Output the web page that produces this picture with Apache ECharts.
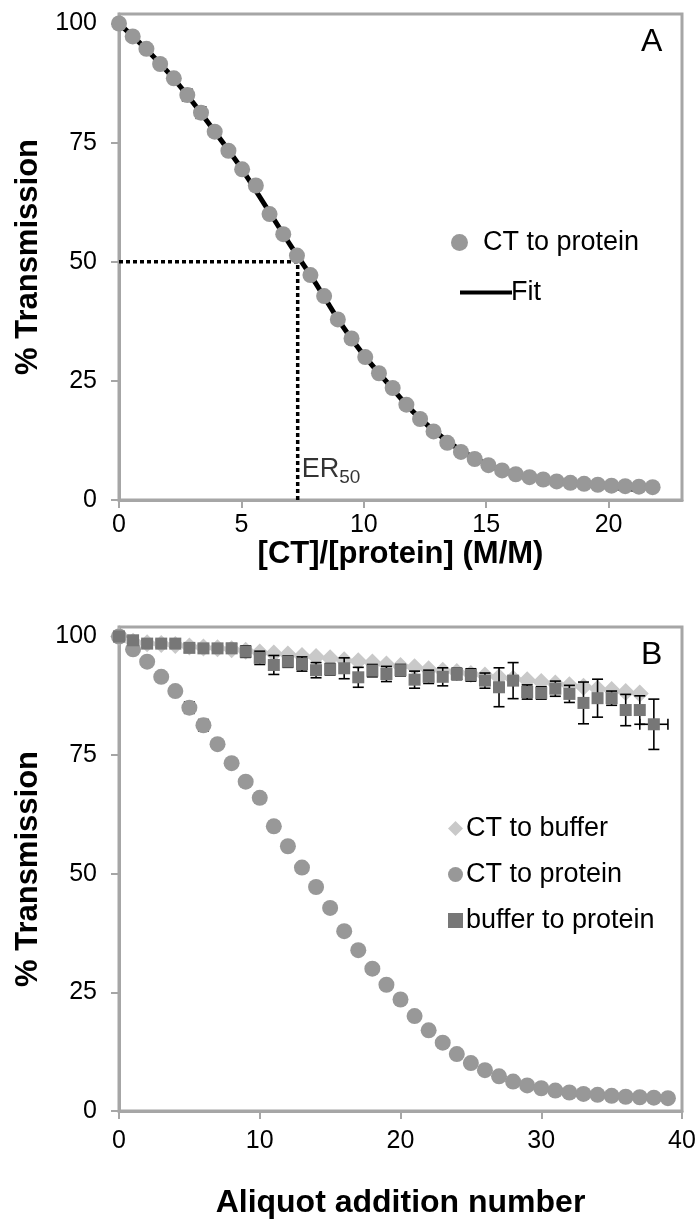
<!DOCTYPE html>
<html><head><meta charset="utf-8">
<script src="https://cdn.jsdelivr.net/npm/echarts@6/dist/echarts.min.js"></script>
<style>html,body{margin:0;padding:0;background:#fff}#c{width:699px;height:1230px}</style>
</head><body><div id="c"></div>
<script>
// ---- data ----
const ratioX = [0,0.56,1.12,1.68,2.24,2.79,3.35,3.91,4.47,5.03,5.59,6.15,6.71,7.27,7.82,8.38,8.94,9.50,10.06,10.62,11.18,11.74,12.30,12.85,13.41,13.97,14.53,15.09,15.65,16.21,16.77,17.33,17.88,18.44,19.00,19.56,20.12,20.68,21.24,21.80];
const aliquot = [0,1,2,3,4,5,6,7,8,9,10,11,12,13,14,15,16,17,18,19,20,21,22,23,24,25,26,27,28,29,30,31,32,33,34,35,36,37,38,39];
const ctProtein = [100,97.3,94.7,91.5,88.5,85,81.3,77.3,73.3,69.4,66,60,55.8,51.3,47.2,42.8,37.9,33.9,30,26.6,23.5,20,17,14.4,12,10.1,8.6,7.3,6.2,5.4,4.8,4.3,3.9,3.6,3.4,3.2,3.0,2.9,2.8,2.7];
const ctProteinErr = [0,0,0,0,0,1.2,1.2,0,0,0,1.0,1.0,0,0,0,0,0,0,0,0,0,0,0.9,0,0,0,0,0,0,0,0,0,0,0,0,0,0,0,0,0];
const fitX = [0,1,2,3,4,5,6,7,8,9,10,11,12,13,14,15,16,17,18,19,20,21.2];
const fitY = [100,95.2,89.8,83.6,76.7,69.6,61.6,53.5,45.8,37.5,30.4,24.4,18.6,14,10.3,7.6,5.8,4.6,3.8,3.2,2.7,2.2];
const er50 = 7.3;
const ctBuffer = [100,98.9,98.6,98.4,98.2,97.9,97.7,97.5,97.3,97.0,96.6,96.4,96.2,95.9,95.7,95.4,95.0,94.8,94.5,94.1,93.8,93.5,93.1,92.8,92.5,92.1,91.8,91.4,91.1,90.8,90.4,90.1,89.7,89.4,89.0,88.7,88.3,88.0];
const bufProtein = [100,99.2,98.5,98.5,98.5,97.6,97.5,97.5,97.5,96.8,95.5,94,94.7,94.2,92.9,93.1,93.3,91.4,92.8,92.1,92.9,90.9,91.5,91.5,92.1,91.9,90.7,89.3,90.7,88.3,88.1,89.0,87.9,86,87,87,84.5,84.5,81.5];
const bufProteinErr = [0.4,0.6,0.8,0.8,0.8,0.9,0.9,0.9,1.0,1.2,1.4,2.0,1.2,1.5,1.6,1.2,2.2,2.1,1.3,1.6,1.2,1.8,1.4,1.9,1.2,1.3,1.6,4.1,3.8,1.5,1.3,1.6,1.8,4.4,4.0,1.5,3.3,3.0,5.3];
const bufProteinXErr = [0,0,0,0,0,0,0,0,0,0,0,0,0,0,0,0,0,0,0,0,0,0,0,0,0,0,0,0,0,0,0,0,0,0,0,0,0,0,1.0];
const yTicks = [0,25,50,75,100];
const xTicksA = [0,5,10,15,20];
const xTicksB = [0,10,20,30,40];

// ---- chart ----
const FONT = 'Liberation Sans, Arial, sans-serif';
const GRAY = '#a6a6a6';
const cCircle = '#989898', cDiamond = '#c9c9c9', cSquare = '#777777';

function errRender(params, api) {
  const x = api.value(0), y = api.value(1), e = api.value(2), xe = api.value(3);
  const ch = [];
  const cap = 5.5;
  const st = {stroke:'#000', lineWidth:1.6};
  if (e > 0) {
    const t = api.coord([x, y + e]), b = api.coord([x, y - e]);
    ch.push({type:'line', shape:{x1:t[0], y1:t[1], x2:b[0], y2:b[1]}, style:st});
    ch.push({type:'line', shape:{x1:t[0]-cap, y1:t[1], x2:t[0]+cap, y2:t[1]}, style:st});
    ch.push({type:'line', shape:{x1:b[0]-cap, y1:b[1], x2:b[0]+cap, y2:b[1]}, style:st});
  }
  if (xe > 0) {
    const l = api.coord([x - xe, y]), r = api.coord([x + xe, y]);
    ch.push({type:'line', shape:{x1:l[0], y1:l[1], x2:r[0], y2:r[1]}, style:st});
    ch.push({type:'line', shape:{x1:l[0], y1:l[1]-cap, x2:l[0], y2:l[1]+cap}, style:st});
    ch.push({type:'line', shape:{x1:r[0], y1:r[1]-cap, x2:r[0], y2:r[1]+cap}, style:st});
  }
  return {type:'group', children:ch};
}

function xAxisCfg(grid, max, ticks, name, gap, nsize, lmargin) {
  return {
    type:'value', gridIndex:grid, min:0, max:max,
    axisLine:{show:true, onZero:false, lineStyle:{color:GRAY, width:3}},
    axisTick:{show:true, length:8, customValues:ticks, lineStyle:{color:GRAY, width:2}},
    axisLabel:{customValues:ticks, fontSize:25, color:'#000', margin:lmargin, fontFamily:FONT},
    splitLine:{show:false},
    name:name, nameLocation:'middle', nameGap:gap,
    nameTextStyle:{fontSize:nsize, fontWeight:'bold', color:'#000', fontFamily:FONT}
  };
}
function yAxisCfg(grid) {
  return {
    type:'value', gridIndex:grid, min:0, max:102,
    axisLine:{show:true, onZero:false, lineStyle:{color:GRAY, width:3}},
    axisTick:{show:true, length:8, customValues:yTicks, lineStyle:{color:GRAY, width:2}},
    axisLabel:{customValues:yTicks, fontSize:25, color:'#000', margin:22, fontFamily:FONT},
    splitLine:{show:false},
    name:'% Transmission', nameLocation:'middle', nameGap:74, nameRotate:90,
    nameTextStyle:{fontSize:31, fontWeight:'bold', color:'#000', fontFamily:FONT}
  };
}

const chart = echarts.init(document.getElementById('c'), null, {renderer:'canvas'});
chart.setOption({
  backgroundColor:'#fff',
  animation:false,
  grid:[
    {left:119, top:14, width:563, height:486, show:true, borderColor:GRAY, borderWidth:3, backgroundColor:'transparent'},
    {left:119, top:627, width:563, height:484, show:true, borderColor:GRAY, borderWidth:3, backgroundColor:'transparent'}
  ],
  xAxis:[
    xAxisCfg(0, 23, xTicksA, '[CT]/[protein] (M/M)', 32, 31, 13),
    xAxisCfg(1, 40, xTicksB, 'Aliquot addition number', 76, 32, 18)
  ],
  yAxis:[yAxisCfg(0), yAxisCfg(1)],
  legend:[
    {left:446, top:224, orient:'vertical', itemWidth:17, itemHeight:17, selectedMode:false,
     data:[{name:'CT to protein', icon:'circle'}],
     textStyle:{fontSize:27, color:'#000', fontFamily:FONT, padding:[0,0,0,10]}},
    {left:455, top:274, orient:'vertical', itemWidth:52, itemHeight:4, selectedMode:false,
     data:[{name:'Fit', icon:'rect'}],
     textStyle:{fontSize:27, color:'#000', fontFamily:FONT, padding:[0,0,0,-6]}},
    {left:443, top:810, orient:'vertical', itemWidth:15, itemHeight:15, itemGap:19, selectedMode:false,
     data:[{name:'CT to buffer', icon:'diamond'},{name:'CT to protein', icon:'circle'},{name:'buffer to protein', icon:'path://M3,3 L12,3 L12,12 L3,12 Z'}],
     textStyle:{fontSize:27, color:'#000', fontFamily:FONT, padding:[0,0,0,-2]}}
  ],
  graphic:[
    {type:'text', left:641, top:26, style:{text:'A', fontSize:32, fill:'#000', fontFamily:FONT}},
    {type:'text', left:641, top:639, style:{text:'B', fontSize:32, fill:'#000', fontFamily:FONT}}
  ],
  series:[
    // Panel A
    {name:'ER50 guide', type:'line', xAxisIndex:0, yAxisIndex:0, symbol:'none', silent:true,
     data:[[0,50],[er50,50],[er50,0]], lineStyle:{color:'#000', width:3.5, type:[4,3]}, z:2},
    {name:'Fit', type:'line', xAxisIndex:0, yAxisIndex:0, symbol:'none', smooth:0.3,
     data:fitX.map((x,i)=>[x, fitY[i]]), lineStyle:{color:'#000', width:5}, itemStyle:{color:'#000'}, z:3},
    {name:'ctErrA', type:'custom', xAxisIndex:0, yAxisIndex:0, renderItem:errRender, silent:true, z:3,
     encode:{x:0, y:1}, data:ratioX.map((x,i)=>[x, ctProtein[i], ctProteinErr[i], 0])},
    {name:'CT to protein', type:'scatter', xAxisIndex:0, yAxisIndex:0, symbol:'circle', symbolSize:16,
     data:ratioX.map((x,i)=>[x, ctProtein[i]]), itemStyle:{color:cCircle, opacity:1}, z:4},
    {name:'ER label', type:'scatter', xAxisIndex:0, yAxisIndex:0, symbolSize:0, silent:true,
     data:[[er50, 0]],
     label:{show:true, position:'right', distance:4, offset:[0,-30], formatter:'ER{s|50}',
       color:'#000', fontSize:27, fontFamily:FONT,
       rich:{s:{fontSize:19, fontFamily:FONT, color:'#000', padding:[16,0,0,0]}}}},
    // Panel B
    {name:'CT to buffer', type:'scatter', xAxisIndex:1, yAxisIndex:1, symbol:'diamond', symbolSize:18,
     data:ctBuffer.map((v,i)=>[aliquot[i], v]), itemStyle:{color:cDiamond, opacity:1}, z:2},
    {name:'CT to protein', type:'scatter', xAxisIndex:1, yAxisIndex:1, symbol:'circle', symbolSize:16,
     data:ctProtein.map((v,i)=>[aliquot[i], v]), itemStyle:{color:cCircle, opacity:1}, z:3},
    {name:'ctErrB', type:'custom', xAxisIndex:1, yAxisIndex:1, renderItem:errRender, silent:true, z:2,
     encode:{x:0, y:1}, data:ctProtein.map((v,i)=>[aliquot[i], v, ctProteinErr[i], 0])},
    {name:'bpErr', type:'custom', xAxisIndex:1, yAxisIndex:1, renderItem:errRender, silent:true, z:4,
     encode:{x:0, y:1}, data:bufProtein.map((v,i)=>[aliquot[i], v, bufProteinErr[i], bufProteinXErr[i]])},
    {name:'buffer to protein', type:'scatter', xAxisIndex:1, yAxisIndex:1, symbol:'rect', symbolSize:12,
     data:bufProtein.map((v,i)=>[aliquot[i], v]), itemStyle:{color:cSquare, opacity:1}, z:5}
  ]
});
</script>
</body></html>
